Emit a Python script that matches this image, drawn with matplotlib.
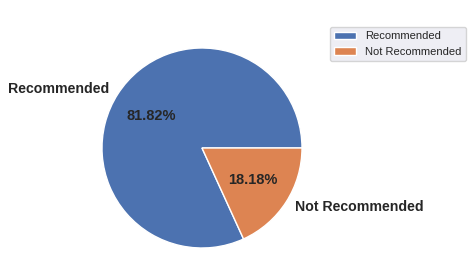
import matplotlib
matplotlib.use("Agg")
import matplotlib.pyplot as plt
import seaborn as sns

sns.set_theme()
plt.rcParams["font.family"] = ["Liberation Sans", "DejaVu Sans"]

labels = ["Recommended", "Not Recommended"]
counts = [9, 2]
colors = sns.color_palette("deep")[:2]

fig = plt.figure(figsize=(4.74, 2.80), dpi=100)
ax = fig.add_axes([77 / 474, 7 / 280, 250 / 474, 250 / 280])

wedges, texts, autotexts = ax.pie(counts, labels=labels, colors=colors, autopct="%.2f%%",
                                  wedgeprops={"edgecolor": "white", "linewidth": 1},
                                  textprops={"fontsize": 10.2, "fontweight": "bold"})
for t in autotexts:
    t.set_fontsize(10.5)
ax.set_title("Distribution of Recommended ID", color="white", fontsize=9)

fig.legend(wedges, labels, loc="upper right", bbox_to_anchor=(0.995, 0.924), fontsize=8)

fig.savefig("out.png", dpi=100, facecolor="white")
